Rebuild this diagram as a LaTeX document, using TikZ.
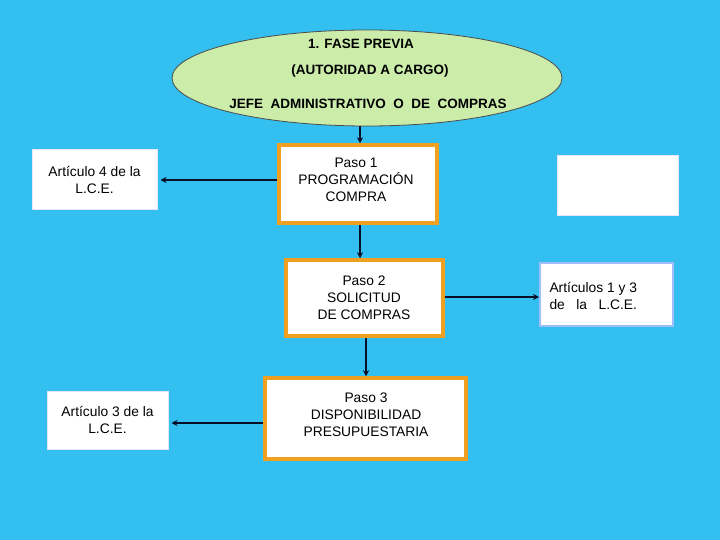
\documentclass[tikz,border=0pt]{standalone}
\usepackage{fontspec}
\setmainfont{Liberation Sans}
\usetikzlibrary{shapes.geometric,arrows.meta}
\definecolor{bg}{RGB}{51,191,239}
\definecolor{ellfill}{RGB}{204,236,170}
\definecolor{orangeb}{RGB}{240,160,32}
\definecolor{lblue}{RGB}{160,190,250}
\definecolor{arrowc}{RGB}{10,15,40}
\tikzset{
  x=1pt,y=-1pt,
  pasobox/.style={draw=orangeb,line width=3.5pt,fill=white,inner sep=0pt},
  pasotext/.style={align=center,inner sep=0pt,font=\fontsize{13.8}{17}\selectfont},
  artbox/.style={draw=white!90!blue,line width=1pt,fill=white,inner sep=0pt,align=center,font=\fontsize{13.8}{16.5}\selectfont},
  conn/.style={draw=arrowc,line width=1.6pt,-{Stealth[length=6pt,width=6pt]}},
}
\begin{document}
\begin{tikzpicture}
\fill[bg] (0,0) rectangle (720,540);
\useasboundingbox (0,0) rectangle (720,540);
\node[ellipse,draw=black!70,line width=0.8pt,fill=ellfill,minimum width=390pt,minimum height=96pt,inner sep=0pt] (ell) at (367,78) {};
\begin{scope}[font=\bfseries\fontsize{13.5}{15}\selectfont]
\node (t1) at (361,44) {1. FASE PREVIA};
\node (t2) at (370,71) {(AUTORIDAD A CARGO)};
\node (t3) at (368,104) {JEFE\ \ ADMINISTRATIVO\ \ O\ \ DE\ \ COMPRAS};
\end{scope}
\node[pasobox,minimum width=158pt,minimum height=78pt] (p1) at (358,184) {};
\node[pasotext] (p1t) at (356,180) {Paso 1\\PROGRAMACIÓN\\COMPRA};
\node[pasobox,minimum width=157pt,minimum height=76pt] (p2) at (364.5,298) {};
\node[pasotext] (p2t) at (364,298) {Paso 2\\SOLICITUD\\DE COMPRAS};
\node[pasobox,minimum width=201pt,minimum height=81pt] (p3) at (365.5,418.5) {};
\node[pasotext] (p3t) at (366,414.5) {Paso 3\\DISPONIBILIDAD\\PRESUPUESTARIA};
\node[artbox,minimum width=125pt,minimum height=60pt] (a4) at (94.5,180) {Artículo 4 de la\\L.C.E.};
\node[artbox,minimum width=121pt,minimum height=58pt] (a3) at (107.5,420) {Artículo 3 de la\\L.C.E.};
\node[draw=white!90!blue,line width=1pt,fill=white,minimum width=121pt,minimum height=60pt,inner sep=0pt] (e1) at (617.5,186) {};
\node[draw=lblue,line width=2pt,fill=white,minimum width=133pt,minimum height=63pt,inner sep=0pt] (a13) at (606.5,294.5) {};
\node[anchor=west,align=left,font=\fontsize{13.8}{16.5}\selectfont] (a13t) at (546,296) {Artículos 1 y 3\\de\ \ \ la\ \ \ L.C.E.};
\coordinate (c1) at (0,180);
\coordinate (c2) at (0,297);
\coordinate (c3) at (0,423);
\draw[conn] (ell.south -| 360,0) -- (p1.north -| 360,0);
\draw[conn] (p1.south -| 360,0) -- (p2.north -| 360,0);
\draw[conn] (p2.south -| 366,0) -- (p3.north -| 366,0);
\draw[conn,shorten >=3pt] (p1.west |- c1) -- (a4.east |- c1);
\draw[conn,shorten >=3pt] (p3.west |- c3) -- (a3.east |- c3);
\draw[conn] (p2.east |- c2) -- (a13.west |- c2);
\end{tikzpicture}
\end{document}
